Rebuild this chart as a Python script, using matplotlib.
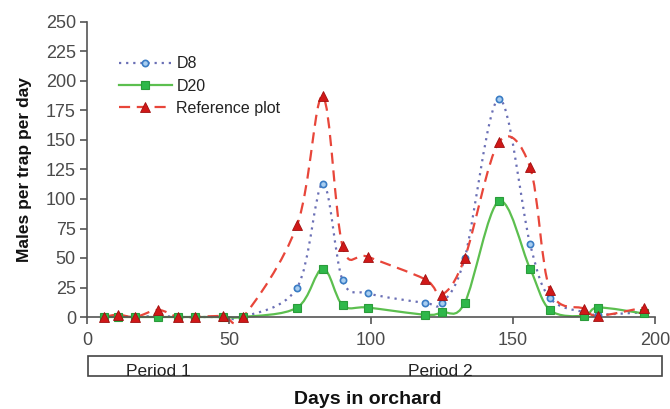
import matplotlib
matplotlib.use("Agg")
import matplotlib.pyplot as plt
import numpy as np
from matplotlib.path import Path
from matplotlib.patches import PathPatch, Rectangle
from matplotlib.lines import Line2D

plt.rcParams['font.family'] = ['Liberation Sans', 'DejaVu Sans']

# Данные
days = [6, 11, 17, 25, 32, 38, 48, 55, 74, 83, 90, 99, 119, 125, 133, 145, 156, 163, 175, 180, 196]
d8 = [0, 1, 0, 1, 0, 0, 0, 0, 25, 113, 31, 20, 12, 12, 50, 185, 62, 16, 4, 2, 4]
d20 = [0, 0, 0, 0, 0, 0, 0, 0, 8, 41, 10, 8, 2, 4, 12, 98, 41, 6, 1, 8, 3]
ref = [0, 2, 0, 6, 0, 0, 1, 0, 78, 187, 60, 51, 32, 19, 50, 148, 127, 23, 7, 1, 8]

x_ticks = [0, 50, 100, 150, 200]
y_ticks = list(range(0, 251, 25))
periods = ["Period 1", "Period 2"]


def smooth_path(x, y):
    # сглаженная линия как в Excel: кривые Безье через точки
    pts = np.column_stack([x, y]).astype(float)
    n = len(pts)
    verts = [pts[0]]
    codes = [Path.MOVETO]
    for i in range(n - 1):
        p0 = pts[max(i - 1, 0)]
        p1 = pts[i]
        p2 = pts[i + 1]
        p3 = pts[min(i + 2, n - 1)]
        c1 = p1 + (p2 - p0) / 6.0
        c2 = p2 - (p3 - p1) / 6.0
        verts += [c1, c2, p2]
        codes += [Path.CURVE4] * 3
    return Path(verts, codes)


def main():
    fig = plt.figure(figsize=(6.7, 4.09), dpi=100)
    ax = fig.add_axes([87 / 670, 1 - 317 / 409, (655 - 87) / 670, (317 - 22) / 409])

    styles = [
        (d8, dict(color='#6a6fb5', linestyle=(0, (1, 2.2)), linewidth=1.6),
         dict(marker='o', markersize=4.5, markerfacecolor='#a8cdf0', markeredgecolor='#3a7cc4', markeredgewidth=1.2), 'D8'),
        (d20, dict(color='#5cbf4f', linestyle='-', linewidth=1.6),
         dict(marker='s', markersize=6, markerfacecolor='#2fb84a', markeredgecolor='#2a9c3a', markeredgewidth=0.8), 'D20'),
        (ref, dict(color='#e8463a', linestyle=(0, (5, 3)), linewidth=1.6),
         dict(marker='^', markersize=7.5, markerfacecolor='#d01818', markeredgecolor='#a01010', markeredgewidth=0.6), 'Reference plot'),
    ]

    handles = []
    for values, line_kw, marker_kw, label in styles:
        patch = PathPatch(smooth_path(days, values), facecolor='none', clip_on=False,
                          edgecolor=line_kw['color'], linestyle=line_kw['linestyle'],
                          linewidth=line_kw['linewidth'])
        ax.add_patch(patch)
        ax.plot(days, values, linestyle='none', clip_on=False, zorder=3, **marker_kw)
        handles.append(Line2D([], [], label=label, **line_kw, **marker_kw))

    ax.set_xlim(0, 200)
    ax.set_ylim(0, 250)
    ax.set_xticks(x_ticks)
    ax.set_yticks(y_ticks)

    for side in ['top', 'right']:
        ax.spines[side].set_visible(False)
    for side in ['left', 'bottom']:
        ax.spines[side].set_color('#555555')
        ax.spines[side].set_linewidth(1.2)
    ax.tick_params(axis='both', direction='out', length=5, width=1.2, color='#555555',
                   labelcolor='#4a4a4a', labelsize=13)
    ax.tick_params(axis='x', pad=6)
    ax.tick_params(axis='y', pad=3)

    ax.set_ylabel("Males per trap per day", fontsize=12.5, fontweight='bold', color='#111111', labelpad=10)

    leg = ax.legend(handles=handles, loc='upper left', bbox_to_anchor=(0.045, 0.905),
                    frameon=False, fontsize=11.5, handlelength=3.3, handletextpad=0.3,
                    labelspacing=0.45, borderaxespad=0)
    for t in leg.get_texts():
        t.set_color('#222222')

    # полоса периодов под осью
    fig.patches.append(Rectangle((88 / 670, 1 - 376 / 409), (662 - 88) / 670, 20 / 409,
                                 transform=fig.transFigure, fill=False,
                                 edgecolor='#444444', linewidth=1.2))
    fig.text(158 / 670, 1 - 376 / 409, periods[0], ha='center', va='baseline', fontsize=12.5, color='#222222')
    fig.text(440 / 670, 1 - 376 / 409, periods[1], ha='center', va='baseline', fontsize=12.5, color='#222222')
    fig.text(368 / 670, 1 - 404 / 409, "Days in orchard", ha='center', va='baseline',
             fontsize=14, fontweight='bold', color='#111111')

    fig.savefig("out.png", dpi=100, facecolor='white')


if __name__ == "__main__":
    main()
